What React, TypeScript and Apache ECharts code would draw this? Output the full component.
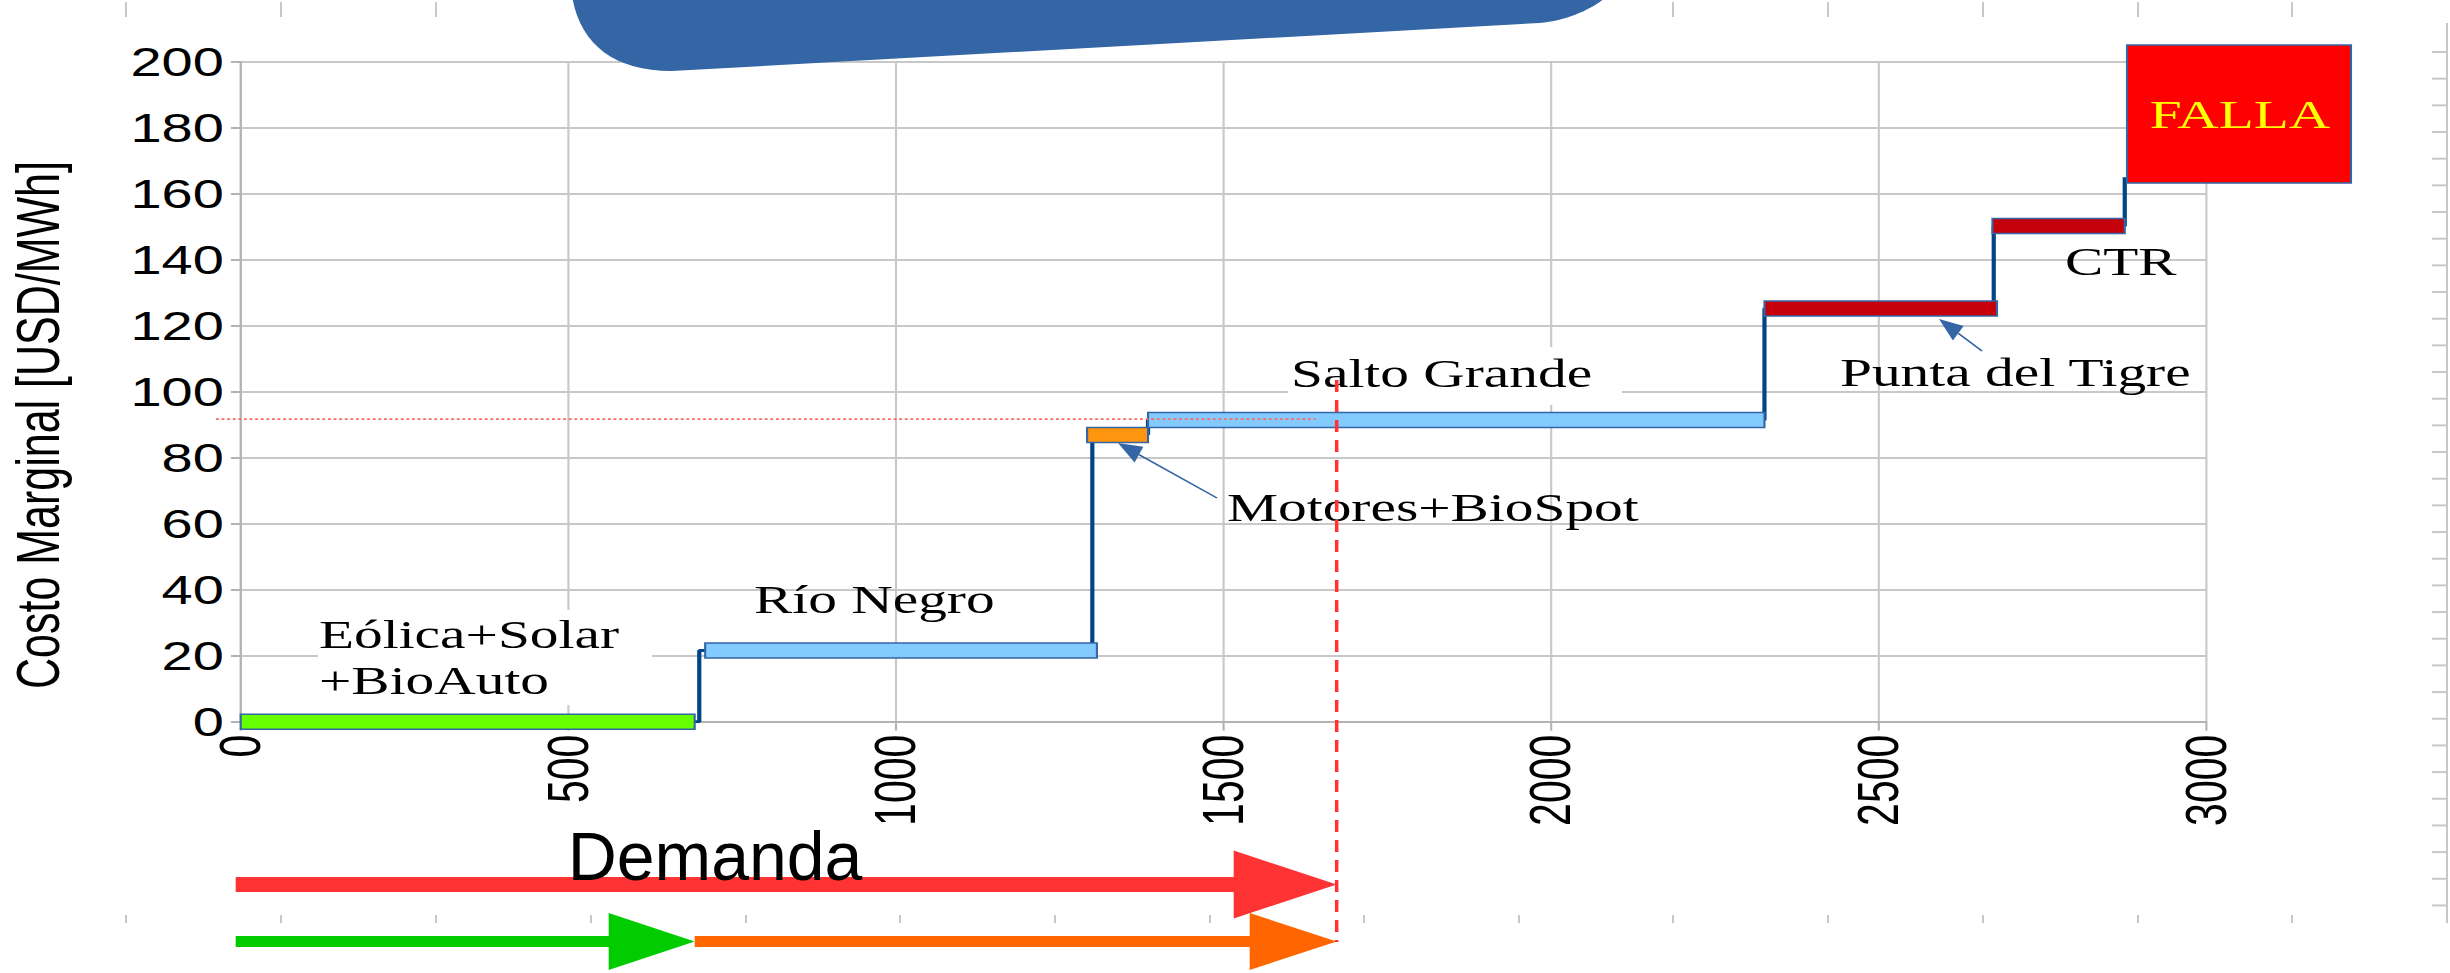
import React, { useEffect, useRef } from 'react';
import * as echarts from 'echarts';

// The reference picture is stretched horizontally: the chart is drawn in a
// narrower box and widened by CSS so that its texts get the same wide look.
const S = 1.4;
const PAGE_W = 2450;
const PAGE_H = 973;
const CHART_W = PAGE_W / S;

// ---------- data ----------
const xMin = 0;
const xMax = 3000;
const xInterval = 500;
const yMin = 0;
const yMax = 200;
const yInterval = 20;

const blockLabels = ['Eólica+Solar\n+BioAuto', 'Río Negro', 'Motores+BioSpot', 'Salto Grande', 'Punta del Tigre', 'CTR'];
const blockStart = [0, 709, 1292, 1385, 2326, 2674];
const blockEnd = [693, 1307, 1385, 2326, 2681, 2876];
const blockCost = [0, 21.6, 86.9, 91.4, 125.2, 150.2];

const stepX = [0, 700, 1300, 1385, 2326, 2676, 2876];
const stepY = [0, 21.6, 87, 91.4, 125.2, 150.2, 165];

const demand = 1673;
const marginalCost = 91.7;
const marginalCostLineEnd = 1641;
const renewableEnd = 693;

const failureLabel = 'FALLA';
const demandLabel = 'Demanda';
const yTitle = 'Costo Marginal [USD/MWh]';

// ---------- styles / layout ----------
const blockColors = ['#66ff00', '#83caff', '#ff950e', '#83caff', '#c5000b', '#c5000b'];
const labelPos = [[319, 648], [754, 613], [1227, 521], [1291, 387], [1840, 386], [2065, 275]];
const BLOCK_H = 15;
const RULER_X = [126, 281, 436, 591, 746, 900, 1055, 1210, 1364, 1519, 1673, 1828, 1983, 2138, 2292];
const BLOB_D = 'M573 -4 L573 0 C582 45 615 71 672 71 L1540 23 C1566 21 1590 10 1603 0 L1603 -4 Z';
const SERIF = '"Liberation Serif", "Times New Roman", serif';
const SANS = '"Liberation Sans", Arial, sans-serif';

export default function App() {
  const ref = useRef<HTMLDivElement>(null);

  useEffect(() => {
    const el = ref.current;
    if (!el) return;
    echarts.graphic.registerShape('blob', echarts.graphic.extendPath(BLOB_D, {}));
    const chart = echarts.init(el, null, { renderer: 'svg' });

    const stepData: number[][] = [];
    for (let i = 0; i < stepX.length; i++) {
      stepData.push([stepX[i], stepY[i]]);
      if (i + 1 < stepX.length) stepData.push([stepX[i + 1], stepY[i]]);
    }
    const blockData = blockStart.map((s, i) => [s, blockEnd[i], blockCost[i]]);

    const gridLeft = 240.7 / S;
    const gridRightPx = 2206 / S;

    chart.setOption({
      animation: false,
      backgroundColor: '#ffffff',
      grid: {
        left: gridLeft,
        right: CHART_W - gridRightPx,
        top: 61.7,
        bottom: PAGE_H - 721.7,
        containLabel: false,
        outerBoundsMode: 'none',
      },
      xAxis: {
        type: 'value',
        min: xMin,
        max: xMax,
        interval: xInterval,
        axisLine: { show: true, onZero: false, lineStyle: { color: '#b3b3b3', width: 2 } },
        axisTick: { show: true, length: 9, lineStyle: { color: '#b3b3b3', width: 1.5 } },
        splitLine: { show: true, lineStyle: { color: '#c8c8c8', width: 1.5 } },
        axisLabel: {
          rotate: 90,
          margin: 13,
          fontSize: 41,
          fontFamily: SANS,
          color: '#000',
          showMinLabel: true,
          showMaxLabel: true,
          formatter: (v: number) => String(v),
        },
      },
      yAxis: {
        type: 'value',
        min: yMin,
        max: yMax,
        interval: yInterval,
        axisLine: { show: true, lineStyle: { color: '#b3b3b3', width: 1.5 } },
        axisTick: { show: true, length: 7, lineStyle: { color: '#b3b3b3', width: 2 } },
        splitLine: { show: true, lineStyle: { color: '#c8c8c8', width: 2 } },
        axisLabel: {
          margin: 12,
          fontSize: 40,
          fontFamily: SANS,
          color: '#000',
          showMinLabel: true,
          showMaxLabel: true,
          formatter: (v: number) => String(v),
        },
      },
      series: [
        {
          type: 'line',
          data: stepData,
          showSymbol: false,
          symbol: 'none',
          lineStyle: { color: '#004586', width: 3 },
          z: 2,
        },
        {
          type: 'custom',
          clip: false,
          data: blockData,
          encode: { x: [0, 1], y: 2 },
          z: 3,
          renderItem: (params: any, api: any) => {
            const a = api.coord([api.value(0), api.value(2)]);
            const b = api.coord([api.value(1), api.value(2)]);
            return {
              type: 'rect',
              shape: { x: a[0], y: a[1] - BLOCK_H / 2, width: b[0] - a[0], height: BLOCK_H },
              style: { fill: blockColors[params.dataIndex], stroke: '#3465a4', lineWidth: 1.5 },
            };
          },
        },
      ],
    });

    // pixel helper: returns page coordinates (x widened by S)
    const P = (x: number, y: number) => {
      const p = chart.convertToPixel({ gridIndex: 0 }, [x, y]) as number[];
      return [p[0] * S, p[1]];
    };
    const X = (fx: number) => fx / S;

    const els: any[] = [];
    const grey = '#c8c8c8';

    // ruler marks of the slide
    RULER_X.forEach((fx) => {
      els.push({ type: 'line', silent: true, z: 4, shape: { x1: X(fx), y1: 2, x2: X(fx), y2: 17 }, style: { stroke: grey, lineWidth: 2 / S } });
      els.push({ type: 'line', silent: true, z: 4, shape: { x1: X(fx), y1: 915, x2: X(fx), y2: 923 }, style: { stroke: grey, lineWidth: 2 / S } });
    });
    els.push({ type: 'line', silent: true, z: 4, shape: { x1: X(2447), y1: 23, x2: X(2447), y2: 923 }, style: { stroke: grey, lineWidth: 2 / S } });
    for (let k = 0; k <= 32; k++) {
      const yy = 52 + 26.67 * k;
      els.push({ type: 'line', silent: true, z: 4, shape: { x1: X(2432), y1: yy, x2: X(2447), y2: yy }, style: { stroke: grey, lineWidth: 2 } });
    }

    // blue rounded shape at the top
    els.push({ type: 'blob', silent: true, z: 6, x: 0, y: 0, scaleX: 1 / S, style: { fill: '#3465a4' } });

    // white boxes behind two labels
    els.push({ type: 'rect', silent: true, z: 1, shape: { x: X(318), y: 610, width: X(652) - X(318), height: 95 }, style: { fill: '#ffffff' } });
    els.push({ type: 'rect', silent: true, z: 1, shape: { x: X(1288), y: 347, width: X(1622) - X(1288), height: 58 }, style: { fill: '#ffffff' } });

    // block labels
    const fsLab = 41;
    blockLabels.forEach((lab, i) => {
      lab.split('\n').forEach((line, j) => {
        els.push({
          type: 'text', silent: true, z: 7,
          x: X(labelPos[i][0]),
          y: labelPos[i][1] + j * 46 - 0.34 * fsLab,
          style: { text: line, fill: '#000', fontSize: fsLab, fontFamily: SERIF, align: 'left', verticalAlign: 'middle' },
        });
      });
    });

    // pointer arrows
    const pointer = (tail: number[], tip: number[]) => {
      const dx = tip[0] - tail[0];
      const dy = tip[1] - tail[1];
      const len = Math.hypot(dx, dy);
      const ux = dx / len, uy = dy / len;
      const hl = 24, hw = 9;
      const bx = tip[0] - ux * hl, by = tip[1] - uy * hl;
      els.push({ type: 'line', silent: true, z: 7, shape: { x1: X(tail[0]), y1: tail[1], x2: X(bx), y2: by }, style: { stroke: '#3465a4', lineWidth: 1.4 } });
      els.push({
        type: 'polygon', silent: true, z: 7,
        shape: { points: [[X(tip[0]), tip[1]], [X(bx - uy * hw), by + ux * hw], [X(bx + uy * hw), by - ux * hw]] },
        style: { fill: '#3465a4' },
      });
    };
    pointer([1217, 498], [1118, 443]);
    pointer([1982, 351], [1939, 319]);

    // marginal cost dotted line and demand dashed line
    const mc = P(marginalCostLineEnd, marginalCost);
    els.push({ type: 'line', silent: true, z: 8, shape: { x1: X(216), y1: mc[1], x2: X(mc[0]), y2: mc[1] }, style: { stroke: '#ff6666', lineWidth: 1.6, lineDash: [2, 2] } });
    const dm = P(demand, 0);
    els.push({ type: 'line', silent: true, z: 8, shape: { x1: X(dm[0]), y1: 380, x2: X(dm[0]), y2: 942 }, style: { stroke: '#ff3333', lineWidth: 2.5, lineDash: [12, 8] } });

    // FALLA box
    els.push({ type: 'rect', silent: true, z: 7, shape: { x: X(2127), y: 45, width: X(2351) - X(2127), height: 138 }, style: { fill: '#ff0000', stroke: '#3465a4', lineWidth: 1.5 } });
    els.push({ type: 'text', silent: true, z: 8, x: X(2240), y: 128 - 0.34 * fsLab, style: { text: failureLabel, fill: '#ffff00', fontSize: fsLab, fontFamily: SERIF, align: 'center', verticalAlign: 'middle' } });

    // y axis title
    els.push({ type: 'text', silent: true, z: 7, x: 27.5, y: 425, rotation: Math.PI / 2, style: { text: yTitle, fill: '#000', fontSize: 43, fontFamily: SANS, align: 'center', verticalAlign: 'middle' } });

    // demand arrows
    const arrow = (x0: number, x1: number, yc: number, sh: number, hl: number, hh: number, color: string) => {
      const pts = [
        [x0, yc - sh / 2], [x1 - hl, yc - sh / 2], [x1 - hl, yc - hh], [x1, yc],
        [x1 - hl, yc + hh], [x1 - hl, yc + sh / 2], [x0, yc + sh / 2],
      ].map((p) => [X(p[0]), p[1]]);
      els.push({ type: 'polygon', silent: true, z: 6, shape: { points: pts }, style: { fill: color } });
    };
    const x0px = P(0, 0)[0] - 5;
    const renPx = P(renewableEnd, 0)[0];
    arrow(x0px, dm[0], 884.5, 15, 103, 34, '#ff3333');
    arrow(x0px, renPx, 941.5, 11, 86, 28.5, '#00cc00');
    arrow(renPx, dm[0], 941.5, 11, 87, 28.5, '#ff6600');
    els.push({ type: 'text', silent: true, z: 9, x: X(715), y: 880 - 0.35 * 68, scaleX: 1 / S, style: { text: demandLabel, fill: '#000', fontSize: 68, fontFamily: SANS, align: 'center', verticalAlign: 'middle' } });

    chart.setOption({ graphic: { elements: els } });

    return () => {
      chart.dispose();
    };
  }, []);

  return (
    <div style={{ position: 'fixed', left: 0, top: 0, width: PAGE_W, height: PAGE_H, overflow: 'hidden', background: '#fff' }}>
      <div
        ref={ref}
        style={{ width: CHART_W, height: PAGE_H, transform: `scaleX(${S})`, transformOrigin: '0 0' }}
      />
    </div>
  );
}
